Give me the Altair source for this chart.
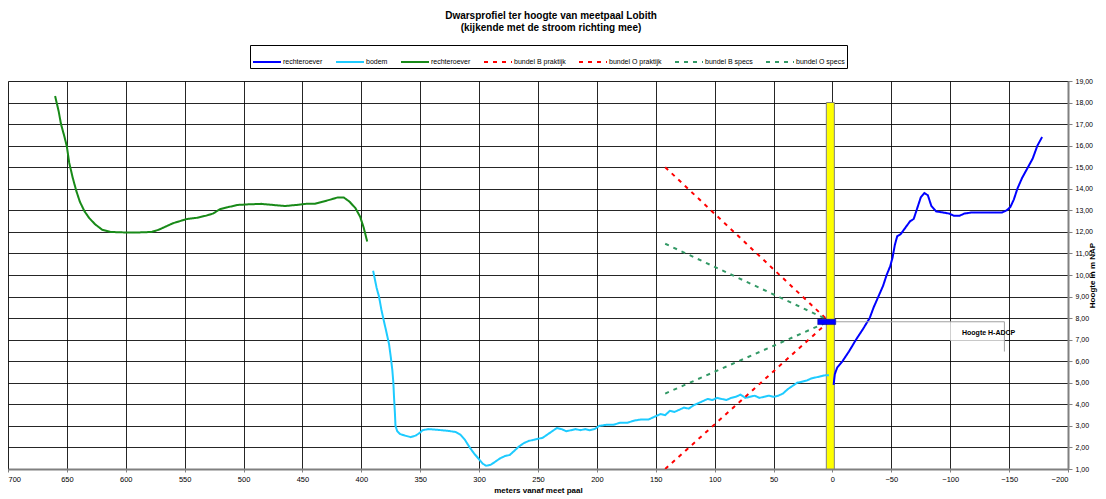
import altair as alt
import pandas as pd

# ---------------- data ----------------
series_names = ["rechteroever_1", "bodem", "rechteroever_2", "bundel B praktijk",
                "bundel O praktijk", "bundel B specs", "bundel O specs"]
series_colors = ["#0000FF", "#1ECBFF", "#188A18", "#FF0000", "#FF0000", "#339966", "#339966"]
series_dash = [[1, 0], [1, 0], [1, 0], [4, 5], [4, 5], [4, 5], [4, 5]]
series_width = [2, 2, 1.6, 1.5, 1.5, 1.5, 1.5]

green_x = [660, 657, 655, 652, 650, 648, 645, 642, 639, 635, 631, 626, 620, 613, 605, 595, 585,
           578, 572, 566, 560, 554, 548, 540, 532, 526, 520, 513, 505, 495, 485, 475, 465, 455,
           447, 440, 433, 426, 420, 415, 410, 405, 401, 398, 395]
green_y = [18.3, 17.6, 17.0, 16.4, 15.95, 15.2, 14.5, 13.9, 13.4, 12.95, 12.64, 12.35, 12.1, 12.0,
           11.98, 11.97, 11.98, 12.0, 12.1, 12.25, 12.4, 12.5, 12.6, 12.65, 12.75, 12.85, 13.05,
           13.15, 13.25, 13.28, 13.3, 13.25, 13.2, 13.25, 13.3, 13.3, 13.4, 13.5, 13.6, 13.6,
           13.4, 13.1, 12.7, 12.2, 11.55]

bodem_x = [390, 387, 385, 383, 381, 378.5, 376.5, 375, 373.7, 372.8, 372.3, 371.5, 371, 369.5,
           367, 363, 358, 354, 351, 348, 343, 336, 328, 320, 316, 312, 308, 304, 300, 297, 294,
           290, 286, 282, 278, 274, 270, 266, 262, 258, 254, 250, 246, 242, 238, 234, 230, 226,
           222, 218, 214, 210, 206, 202, 198, 192, 186, 180, 174, 168, 162, 156, 150, 146, 142,
           138, 134, 130, 126, 122, 118, 114, 110, 106, 102, 98, 94, 90, 86, 82, 78, 74, 70, 66,
           62, 58, 54, 50, 46, 42, 38, 34, 30, 26, 22, 18, 14, 10, 6, 3]
bodem_y = [10.2, 9.4, 9.0, 8.4, 7.9, 7.3, 6.8, 6.2, 5.6, 5.0, 4.4, 3.6, 3.0, 2.75,
           2.62, 2.55, 2.48, 2.55, 2.65, 2.8, 2.85, 2.82, 2.78, 2.72, 2.6, 2.35, 2.0, 1.7, 1.45,
           1.25, 1.15, 1.2, 1.35, 1.5, 1.6, 1.65, 1.85, 2.05, 2.2, 2.3, 2.35, 2.4, 2.45, 2.6,
           2.75, 2.9, 2.85, 2.75, 2.8, 2.85, 2.8, 2.85, 2.8, 2.85, 3.0, 3.05, 3.05, 3.15, 3.15,
           3.25, 3.3, 3.3, 3.45, 3.55, 3.5, 3.7, 3.65, 3.75, 3.85, 3.8, 3.95, 4.05, 4.15, 4.25,
           4.2, 4.3, 4.25, 4.2, 4.3, 4.35, 4.45, 4.3, 4.35, 4.4, 4.3, 4.35, 4.4, 4.35, 4.4, 4.5,
           4.7, 4.85, 5.0, 5.05, 5.1, 5.2, 5.25, 5.3, 5.35, 5.35]

blue_x = [-1, -2, -4, -8.5, -14, -20, -26, -31.6, -35, -39, -43, -46, -49, -51, -53, -55, -58,
          -62, -66, -69, -72, -75, -78, -81, -84, -88, -94, -99, -103, -108, -112, -118, -125,
          -135, -144, -148, -151, -154, -157, -161, -164, -167, -170, -174, -178]
blue_y = [4.9, 5.4, 5.7, 6.0, 6.45, 7.0, 7.5, 8.0, 8.5, 9.0, 9.5, 10.0, 10.4, 10.8, 11.4, 11.8,
          11.9, 12.2, 12.5, 12.6, 13.1, 13.6, 13.8, 13.7, 13.2, 12.95, 12.9, 12.85, 12.75, 12.75,
          12.85, 12.9, 12.9, 12.9, 12.9, 13.0, 13.15, 13.5, 14.0, 14.5, 14.8, 15.1, 15.4, 16.0,
          16.4]

bundel_x = [142, 5]
bundel_B_praktijk_y = [15.0, 7.95]
bundel_O_praktijk_y = [1.0, 7.75]
bundel_B_specs_y = [11.45, 7.95]
bundel_O_specs_y = [4.5, 7.8]

pole_x = [5.2, -1.6]
pole_y = [1.0, 18.0]

adcp_x = [12.5, -2.8]
adcp_y = [7.7, 7.95]
adcp_label = "Hoogte H-ADCP"
callout_x = [-2.8, -146]
callout_y = 7.83
label_box_x = [-100, -146]
label_box_y = [7.83, 6.95]
label_pos = [-110, 7.31]

x_ticks = list(range(-200, 701, 50))
y_ticks = list(range(1, 20))

# ---------------- table ----------------
rows = []
def add(name, xs, ys):
    for i, (a, b) in enumerate(zip(xs, ys)):
        rows.append({"series": name, "x": a, "y": b, "i": i})

add("rechteroever_1", blue_x, blue_y)
add("bodem", bodem_x, bodem_y)
add("rechteroever_2", green_x, green_y)
add("bundel B praktijk", bundel_x, bundel_B_praktijk_y)
add("bundel O praktijk", bundel_x, bundel_O_praktijk_y)
add("bundel B specs", bundel_x, bundel_B_specs_y)
add("bundel O specs", bundel_x, bundel_O_specs_y)
df = pd.DataFrame(rows)

FONT = "Liberation Sans"

xscale = alt.Scale(domain=[-200, 700], reverse=True, nice=False, zero=False)
yscale = alt.Scale(domain=[1, 19], nice=False, zero=False)

xaxis = alt.Axis(
    values=x_ticks, format="d", title="meters vanaf meet paal", labelOverlap=False,
    labelFontSize=7.5, labelFont=FONT, labelColor="black", labelPadding=3,
    titleFont=FONT, titleFontSize=8, titleFontWeight="bold", titlePadding=4,
    tickSize=3, tickColor="#808080", domainColor="#808080", domainWidth=2,
    grid=True, gridColor="black", gridOpacity=0.85, gridWidth=1)
yaxis = alt.Axis(
    orient="right", values=y_ticks, labelOverlap=False,
    labelExpr="replace(format(datum.value, '.2f'), '.', ',')",
    title="Hoogte in m NAP", titleAngle=270, titleFont=FONT, titleFontSize=8,
    titleFontWeight="bold", titlePadding=4,
    labelFontSize=7, labelFont=FONT, labelColor="black", labelPadding=3,
    tickSize=4, tickColor="#808080", domainColor="#808080", domainWidth=2,
    grid=True, gridColor="black", gridOpacity=0.85, gridWidth=1)


def X(f="x:Q"):
    return alt.X(f, scale=xscale, axis=xaxis)


def Y(f="y:Q"):
    return alt.Y(f, scale=yscale, axis=yaxis)


pole_df = pd.DataFrame({"x": [pole_x[0]], "x2": [pole_x[1]], "y": [pole_y[0]], "y2": [pole_y[1]]})
pole = alt.Chart(pole_df).mark_rect(fill="#FFFF00", stroke="#808080", strokeWidth=1).encode(
    x=X(), x2="x2:Q", y=Y(), y2="y2:Q")

lines = alt.Chart(df).mark_line(clip=True).encode(
    x=X(),
    y=Y(),
    order="i:Q",
    color=alt.Color("series:N", scale=alt.Scale(domain=series_names, range=series_colors),
                    legend=alt.Legend(
                        orient="none", legendX=242, legendY=-36, direction="horizontal",
                        columns=7, title=None, symbolType="stroke", symbolSize=784,
                        labelFont=FONT, labelFontSize=7, labelLimit=0, labelOffset=1,
                        labelExpr="split(datum.label, '_')[0]",
                        columnPadding=9, padding=2, strokeColor="black",
                        fillColor="white", symbolStrokeWidth=2)),
    strokeDash=alt.StrokeDash("series:N", scale=alt.Scale(domain=series_names, range=series_dash)),
    strokeWidth=alt.StrokeWidth("series:N", scale=alt.Scale(domain=series_names, range=series_width)),
)

box_df = pd.DataFrame({"x": [label_box_x[0]], "x2": [label_box_x[1]],
                       "y": [label_box_y[0]], "y2": [label_box_y[1]]})
box = alt.Chart(box_df).mark_rect(fill="white").encode(
    x=X(), x2="x2:Q", y=Y(), y2="y2:Q")

callout_df = pd.DataFrame({"x": [callout_x[0]], "x2": [callout_x[1]], "y": [callout_y]})
callout = alt.Chart(callout_df).mark_rule(color="#A0A0A0", strokeWidth=1).encode(
    x=X(), x2="x2:Q", y=Y())

vline_df = pd.DataFrame({"x": [callout_x[1]], "y": [callout_y], "y2": [label_box_y[1] - 0.5]})
vline = alt.Chart(vline_df).mark_rule(color="#A0A0A0", strokeWidth=1).encode(
    x=X(), y=Y(), y2="y2:Q")

text_df = pd.DataFrame({"x": [label_pos[0]], "y": [label_pos[1]], "t": [adcp_label]})
text = alt.Chart(text_df).mark_text(align="left", baseline="middle", font=FONT, fontSize=7,
                                     fontWeight="bold", color="black").encode(
    x=X(), y=Y(), text="t:N")

adcp_df = pd.DataFrame({"x": [adcp_x[0]], "x2": [adcp_x[1]], "y": [adcp_y[0]], "y2": [adcp_y[1]]})
adcp = alt.Chart(adcp_df).mark_rect(fill="#0000FF", stroke="#000080", strokeWidth=0.5).encode(
    x=X(), x2="x2:Q", y=Y(), y2="y2:Q")

chart = alt.layer(pole, lines, box, callout, vline, text, adcp).resolve_scale(
    color="independent", strokeDash="independent").properties(
    width=1060, height=388,
    autosize=alt.AutoSizeParams(type="none"),
    padding={"left": 8, "top": 81, "right": 38, "bottom": 30},
    title=alt.TitleParams(["Dwarsprofiel ter hoogte van meetpaal Lobith",
                           "(kijkende met de stroom richting mee)"],
                          font=FONT, fontSize=10, fontWeight="bold", anchor="middle",
                          offset=12, lineHeight=12, dx=13, color="black"),
).configure_view(stroke="#808080", strokeWidth=1).configure(background="white")

chart.save("out.html", embed_options={"renderer": "svg", "actions": False})
